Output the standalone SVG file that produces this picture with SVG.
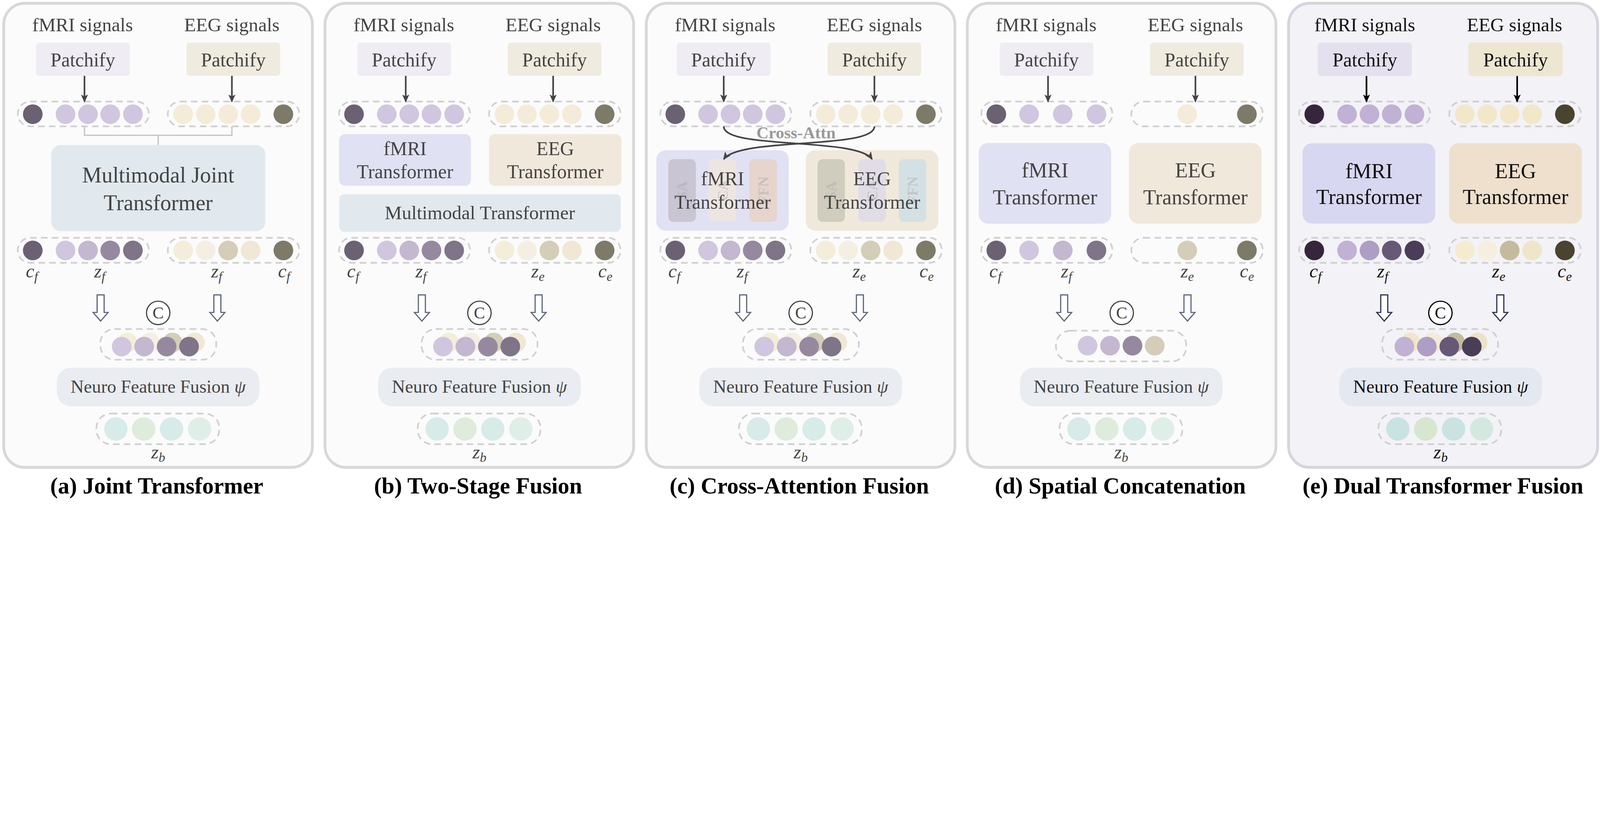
<svg xmlns="http://www.w3.org/2000/svg" xmlns:xlink="http://www.w3.org/1999/xlink" width="6838" height="2137" viewBox="0 0 6838 2137" style="max-width:100vw;height:auto">
<style>
.t{font-family:"Liberation Serif","Times New Roman",serif;fill:#444;text-anchor:middle}
.te{fill:#111}
.m{font-family:"Liberation Serif","Times New Roman",serif;font-style:italic;fill:#444;font-size:82px;text-anchor:middle}
.cap{font-family:"Liberation Serif","Times New Roman",serif;font-weight:bold;fill:#000;font-size:98px;text-anchor:middle}
.panel{fill:#fbfbfb;stroke:#d8d8d8;stroke-width:12}
.pill{fill:none;stroke:#d0d0d0;stroke-width:7;stroke-dasharray:28 18}
.arr{stroke:#444;stroke-width:7;fill:none}
.hol{fill:#fff;stroke:#5c6680;stroke-width:5}
.sig{font-size:82px}
.pat{font-size:83px}
.nff{font-size:78px}
.bar{font-family:"Liberation Serif",serif;font-weight:bold;font-size:62px;fill:#b0a8b0;opacity:0.45;text-anchor:middle}
</style>
<defs>
<marker id="ah2" markerUnits="userSpaceOnUse" markerWidth="34" markerHeight="30" refX="30" refY="15" orient="auto" viewBox="0 0 34 30"><path d="M0,0 L34,15 L0,30 L8,15 Z" fill="#444"/></marker>
<marker id="ahe" markerUnits="userSpaceOnUse" markerWidth="34" markerHeight="30" refX="30" refY="15" orient="auto" viewBox="0 0 34 30"><path d="M0,0 L34,15 L0,30 L8,15 Z" fill="#000"/></marker>
<path id="hollow" d="M-15,0 L15,0 L15,75 L32,75 L0,112 L-32,75 L-15,75 Z"/>
</defs>

<!-- ================= (a) ================= -->
<g id="panel-a" transform="translate(16,0)">
<rect class="panel" x="0" y="14" width="1319" height="1983" rx="90"/>
<text class="t sig" x="337" y="133">fMRI signals</text>
<text class="t sig" x="975" y="133">EEG signals</text>
<g id="a-patch-f"><rect x="138" y="182" width="401" height="142" rx="14" fill="#efecf4"/><text class="t pat" x="338" y="283">Patchify</text></g>
<g id="a-patch-e"><rect x="781" y="182" width="400" height="142" rx="14" fill="#efebdf"/><text class="t pat" x="981" y="283">Patchify</text></g>
<g id="a-in-f"><rect class="pill" x="60" y="434" width="560" height="106" rx="53"/>
<circle cx="124" cy="488" r="42" fill="#6b6173"/><circle cx="264" cy="488" r="42" fill="#d0c6df"/><circle cx="360" cy="488" r="42" fill="#d0c6df"/><circle cx="455" cy="488" r="42" fill="#d0c6df"/><circle cx="552" cy="488" r="42" fill="#d0c6df"/></g>
<g id="a-in-e"><rect class="pill" x="701" y="434" width="562" height="106" rx="53"/>
<circle cx="767" cy="488" r="42" fill="#f4ecd8"/><circle cx="863" cy="488" r="42" fill="#f4ecd8"/><circle cx="959" cy="488" r="42" fill="#f4ecd8"/><circle cx="1055" cy="488" r="42" fill="#f4ecd8"/><circle cx="1195" cy="488" r="42" fill="#7d7a68"/></g>
<g id="a-joint"><rect x="203" y="620" width="915" height="368" rx="40" fill="#e1e9ee"/><text class="t" font-size="94" x="660" y="779">Multimodal Joint</text><text class="t" font-size="94" x="660" y="898">Transformer</text></g>
<g id="a-out-f"><rect class="pill" x="60" y="1016" width="560" height="107" rx="53"/>
<circle cx="124" cy="1070" r="42" fill="#6b6173"/><circle cx="264" cy="1070" r="42" fill="#d0c6df"/><circle cx="360" cy="1070" r="42" fill="#c4b7d0"/><circle cx="455" cy="1070" r="42" fill="#96899f"/><circle cx="552" cy="1070" r="42" fill="#7f7488"/></g>
<g id="a-out-e"><rect class="pill" x="701" y="1016" width="562" height="107" rx="53"/>
<circle cx="767" cy="1070" r="42" fill="#f4edd9"/><circle cx="863" cy="1070" r="42" fill="#f5efe3"/><circle cx="959" cy="1070" r="42" fill="#d4cdb8"/><circle cx="1055" cy="1070" r="42" fill="#f0e8d4"/><circle cx="1195" cy="1070" r="42" fill="#7d7a68"/></g>
<text class="m" x="120" y="1185">c<tspan font-size="56" dy="16">f</tspan></text>
<text class="m" x="410" y="1185">z<tspan font-size="56" dy="16">f</tspan></text>
<text class="m" x="910" y="1185">z<tspan font-size="56" dy="16">f</tspan></text>
<text class="m" x="1198" y="1185">c<tspan font-size="56" dy="16">f</tspan></text>
<g id="a-concat-op"><circle cx="660" cy="1337" r="50" fill="#fff" stroke="#444" stroke-width="5"/><text class="t" font-size="72" x="660" y="1361">C</text></g>
<g id="a-concat"><rect class="pill" x="413" y="1406" width="495" height="131" rx="60"/>
<circle cx="529" cy="1463" r="42" fill="#f4edd9"/><circle cx="625" cy="1463" r="42" fill="#f5efe3"/><circle cx="721" cy="1463" r="42" fill="#d4cdb8"/><circle cx="817" cy="1463" r="42" fill="#f0e8d4"/>
<circle cx="504" cy="1481" r="42" fill="#d0c6df"/><circle cx="600" cy="1481" r="42" fill="#c4b7d0"/><circle cx="696" cy="1481" r="42" fill="#96899f"/><circle cx="792" cy="1481" r="42" fill="#7f7488"/></g>
<g id="a-nff"><rect x="227" y="1571" width="866" height="165" rx="60" fill="#e9ecf0"/><text class="t nff" x="660" y="1678">Neuro Feature Fusion <tspan font-style="italic">ψ</tspan></text></g>
<g id="a-zb"><rect class="pill" x="396" y="1767" width="525" height="131" rx="62"/>
<circle cx="479" cy="1833" r="50" fill="#d7ebe8"/><circle cx="598" cy="1833" r="50" fill="#dfebdb"/><circle cx="717" cy="1833" r="50" fill="#d7ebe8"/><circle cx="837" cy="1833" r="50" fill="#e0eee8"/></g>
<text class="m" x="660" y="1958">z<tspan font-size="56" dy="16">b</tspan></text>
<g id="a-conn">
<line class="arr" x1="345" y1="324" x2="345" y2="434" marker-end="url(#ah2)"/>
<line class="arr" x1="975" y1="324" x2="975" y2="434" marker-end="url(#ah2)"/>
<path d="M345,540 V578 H975 V540 M660,578 V620" fill="none" stroke="#c8c8c8" stroke-width="6"/>
<use href="#hollow" class="hol" x="414" y="1260"/><use href="#hollow" class="hol" x="913" y="1260"/>
</g>
<text class="cap" x="654" y="2109">(a) Joint Transformer</text>
</g>

<!-- ================= (b) ================= -->
<g id="panel-b" transform="translate(1389,0)">
<rect class="panel" x="0" y="14" width="1319" height="1983" rx="90"/>
<text class="t sig" x="337" y="133">fMRI signals</text>
<text class="t sig" x="975" y="133">EEG signals</text>
<g id="b-patch-f"><rect x="138" y="182" width="401" height="142" rx="14" fill="#efecf4"/><text class="t pat" x="338" y="283">Patchify</text></g>
<g id="b-patch-e"><rect x="781" y="182" width="400" height="142" rx="14" fill="#efebdf"/><text class="t pat" x="981" y="283">Patchify</text></g>
<g id="b-in-f"><rect class="pill" x="60" y="434" width="560" height="106" rx="53"/>
<circle cx="124" cy="488" r="42" fill="#6b6173"/><circle cx="264" cy="488" r="42" fill="#d0c6df"/><circle cx="360" cy="488" r="42" fill="#d0c6df"/><circle cx="455" cy="488" r="42" fill="#d0c6df"/><circle cx="552" cy="488" r="42" fill="#d0c6df"/></g>
<g id="b-in-e"><rect class="pill" x="701" y="434" width="562" height="106" rx="53"/>
<circle cx="767" cy="488" r="42" fill="#f4ecd8"/><circle cx="863" cy="488" r="42" fill="#f4ecd8"/><circle cx="959" cy="488" r="42" fill="#f4ecd8"/><circle cx="1055" cy="488" r="42" fill="#f4ecd8"/><circle cx="1195" cy="488" r="42" fill="#7d7a68"/></g>
<g id="b-ftr"><rect x="60" y="573" width="564" height="221" rx="26" fill="#e1e1f4"/><text class="t" font-size="83" x="342" y="662">fMRI</text><text class="t" font-size="83" x="342" y="761">Transformer</text></g>
<g id="b-etr"><rect x="701" y="573" width="566" height="221" rx="26" fill="#f1e8dc"/><text class="t" font-size="83" x="984" y="662">EEG</text><text class="t" font-size="83" x="984" y="761">Transformer</text></g>
<g id="b-mm"><rect x="61" y="830" width="1203" height="161" rx="20" fill="#e1e9ee"/><text class="t" font-size="82" x="662" y="937">Multimodal Transformer</text></g>
<g id="b-out-f"><rect class="pill" x="60" y="1016" width="560" height="107" rx="53"/>
<circle cx="124" cy="1070" r="42" fill="#6b6173"/><circle cx="264" cy="1070" r="42" fill="#d0c6df"/><circle cx="360" cy="1070" r="42" fill="#c4b7d0"/><circle cx="455" cy="1070" r="42" fill="#96899f"/><circle cx="552" cy="1070" r="42" fill="#7f7488"/></g>
<g id="b-out-e"><rect class="pill" x="701" y="1016" width="562" height="107" rx="53"/>
<circle cx="767" cy="1070" r="42" fill="#f4edd9"/><circle cx="863" cy="1070" r="42" fill="#f5efe3"/><circle cx="959" cy="1070" r="42" fill="#d4cdb8"/><circle cx="1055" cy="1070" r="42" fill="#f0e8d4"/><circle cx="1195" cy="1070" r="42" fill="#7d7a68"/></g>
<text class="m" x="120" y="1185">c<tspan font-size="56" dy="16">f</tspan></text>
<text class="m" x="410" y="1185">z<tspan font-size="56" dy="16">f</tspan></text>
<text class="m" x="910" y="1185">z<tspan font-size="56" dy="16">e</tspan></text>
<text class="m" x="1198" y="1185">c<tspan font-size="56" dy="16">e</tspan></text>
<g id="b-concat-op"><circle cx="660" cy="1337" r="50" fill="#fff" stroke="#444" stroke-width="5"/><text class="t" font-size="72" x="660" y="1361">C</text></g>
<g id="b-concat"><rect class="pill" x="413" y="1406" width="495" height="131" rx="60"/>
<circle cx="529" cy="1463" r="42" fill="#f4edd9"/><circle cx="625" cy="1463" r="42" fill="#f5efe3"/><circle cx="721" cy="1463" r="42" fill="#d4cdb8"/><circle cx="817" cy="1463" r="42" fill="#f0e8d4"/>
<circle cx="504" cy="1481" r="42" fill="#d0c6df"/><circle cx="600" cy="1481" r="42" fill="#c4b7d0"/><circle cx="696" cy="1481" r="42" fill="#96899f"/><circle cx="792" cy="1481" r="42" fill="#7f7488"/></g>
<g id="b-nff"><rect x="227" y="1571" width="866" height="165" rx="60" fill="#e9ecf0"/><text class="t nff" x="660" y="1678">Neuro Feature Fusion <tspan font-style="italic">ψ</tspan></text></g>
<g id="b-zb"><rect class="pill" x="396" y="1767" width="525" height="131" rx="62"/>
<circle cx="479" cy="1833" r="50" fill="#d7ebe8"/><circle cx="598" cy="1833" r="50" fill="#dfebdb"/><circle cx="717" cy="1833" r="50" fill="#d7ebe8"/><circle cx="837" cy="1833" r="50" fill="#e0eee8"/></g>
<text class="m" x="660" y="1958">z<tspan font-size="56" dy="16">b</tspan></text>
<g id="b-conn">
<line class="arr" x1="345" y1="324" x2="345" y2="434" marker-end="url(#ah2)"/>
<line class="arr" x1="975" y1="324" x2="975" y2="434" marker-end="url(#ah2)"/>
<use href="#hollow" class="hol" x="414" y="1260"/><use href="#hollow" class="hol" x="913" y="1260"/>
</g>
<text class="cap" x="654" y="2109">(b) Two-Stage Fusion</text>
</g>

<!-- ================= (c) ================= -->
<g id="panel-c" transform="translate(2762,0)">
<rect class="panel" x="0" y="14" width="1319" height="1983" rx="90"/>
<text class="t sig" x="337" y="133">fMRI signals</text>
<text class="t sig" x="975" y="133">EEG signals</text>
<g id="c-patch-f"><rect x="130" y="182" width="401" height="142" rx="14" fill="#efecf4"/><text class="t pat" x="330" y="283">Patchify</text></g>
<g id="c-patch-e"><rect x="775" y="182" width="400" height="142" rx="14" fill="#efebdf"/><text class="t pat" x="975" y="283">Patchify</text></g>
<g id="c-in-f"><rect class="pill" x="60" y="434" width="560" height="106" rx="53"/>
<circle cx="124" cy="488" r="42" fill="#6b6173"/><circle cx="264" cy="488" r="42" fill="#d0c6df"/><circle cx="360" cy="488" r="42" fill="#d0c6df"/><circle cx="455" cy="488" r="42" fill="#d0c6df"/><circle cx="552" cy="488" r="42" fill="#d0c6df"/></g>
<g id="c-in-e"><rect class="pill" x="701" y="434" width="562" height="106" rx="53"/>
<circle cx="767" cy="488" r="42" fill="#f4ecd8"/><circle cx="863" cy="488" r="42" fill="#f4ecd8"/><circle cx="959" cy="488" r="42" fill="#f4ecd8"/><circle cx="1055" cy="488" r="42" fill="#f4ecd8"/><circle cx="1195" cy="488" r="42" fill="#7d7a68"/></g>
<g id="c-ftr"><rect x="43" y="642" width="566" height="344" rx="40" fill="#e1e1f4"/>
<rect x="94" y="680" width="118" height="268" rx="22" fill="#c9c5d3"/><rect x="267" y="680" width="118" height="268" rx="22" fill="#ede5e0"/><rect x="440" y="680" width="119" height="268" rx="22" fill="#e6d4cd"/>
<text class="bar" transform="translate(175,814) rotate(-90)">SA</text><text class="bar" transform="translate(348,814) rotate(-90)">CA</text><text class="bar" transform="translate(521,814) rotate(-90)">FFN</text>
<text class="t" font-size="83" x="326" y="792">fMRI</text><text class="t" font-size="83" x="326" y="892">Transformer</text></g>
<g id="c-etr"><rect x="682" y="642" width="566" height="344" rx="40" fill="#f1e8dc"/>
<rect x="732" y="680" width="117" height="268" rx="22" fill="#d0ccbe"/><rect x="906" y="680" width="118" height="268" rx="22" fill="#e0dde6"/><rect x="1079" y="680" width="118" height="268" rx="22" fill="#d3e1e4"/>
<text class="bar" transform="translate(812,814) rotate(-90)">SA</text><text class="bar" transform="translate(987,814) rotate(-90)">CA</text><text class="bar" transform="translate(1160,814) rotate(-90)">FFN</text>
<text class="t" font-size="83" x="965" y="792">EEG</text><text class="t" font-size="83" x="965" y="892">Transformer</text></g>
<g id="c-out-f"><rect class="pill" x="60" y="1016" width="560" height="107" rx="53"/>
<circle cx="124" cy="1070" r="42" fill="#6b6173"/><circle cx="264" cy="1070" r="42" fill="#d0c6df"/><circle cx="360" cy="1070" r="42" fill="#c4b7d0"/><circle cx="455" cy="1070" r="42" fill="#96899f"/><circle cx="552" cy="1070" r="42" fill="#7f7488"/></g>
<g id="c-out-e"><rect class="pill" x="701" y="1016" width="562" height="107" rx="53"/>
<circle cx="767" cy="1070" r="42" fill="#f4edd9"/><circle cx="863" cy="1070" r="42" fill="#f5efe3"/><circle cx="959" cy="1070" r="42" fill="#d4cdb8"/><circle cx="1055" cy="1070" r="42" fill="#f0e8d4"/><circle cx="1195" cy="1070" r="42" fill="#7d7a68"/></g>
<text class="m" x="120" y="1185">c<tspan font-size="56" dy="16">f</tspan></text>
<text class="m" x="410" y="1185">z<tspan font-size="56" dy="16">f</tspan></text>
<text class="m" x="910" y="1185">z<tspan font-size="56" dy="16">e</tspan></text>
<text class="m" x="1198" y="1185">c<tspan font-size="56" dy="16">e</tspan></text>
<g id="c-concat-op"><circle cx="660" cy="1337" r="50" fill="#fff" stroke="#444" stroke-width="5"/><text class="t" font-size="72" x="660" y="1361">C</text></g>
<g id="c-concat"><rect class="pill" x="413" y="1406" width="495" height="131" rx="60"/>
<circle cx="529" cy="1463" r="42" fill="#f4edd9"/><circle cx="625" cy="1463" r="42" fill="#f5efe3"/><circle cx="721" cy="1463" r="42" fill="#d4cdb8"/><circle cx="817" cy="1463" r="42" fill="#f0e8d4"/>
<circle cx="504" cy="1481" r="42" fill="#d0c6df"/><circle cx="600" cy="1481" r="42" fill="#c4b7d0"/><circle cx="696" cy="1481" r="42" fill="#96899f"/><circle cx="792" cy="1481" r="42" fill="#7f7488"/></g>
<g id="c-nff"><rect x="227" y="1571" width="866" height="165" rx="60" fill="#e9ecf0"/><text class="t nff" x="660" y="1678">Neuro Feature Fusion <tspan font-style="italic">ψ</tspan></text></g>
<g id="c-zb"><rect class="pill" x="396" y="1767" width="525" height="131" rx="62"/>
<circle cx="479" cy="1833" r="50" fill="#d7ebe8"/><circle cx="598" cy="1833" r="50" fill="#dfebdb"/><circle cx="717" cy="1833" r="50" fill="#d7ebe8"/><circle cx="837" cy="1833" r="50" fill="#e0eee8"/></g>
<text class="m" x="660" y="1958">z<tspan font-size="56" dy="16">b</tspan></text>
<g id="c-conn">
<line class="arr" x1="331" y1="324" x2="331" y2="434" marker-end="url(#ah2)"/>
<line class="arr" x1="975" y1="324" x2="975" y2="434" marker-end="url(#ah2)"/>
<path class="arr" d="M331,540 C331,640 900,585 965,680" marker-end="url(#ah2)"/>
<path class="arr" d="M975,540 C975,640 400,585 331,680" marker-end="url(#ah2)"/>
<use href="#hollow" class="hol" x="414" y="1260"/><use href="#hollow" class="hol" x="913" y="1260"/>
</g>
<text x="640" y="591" font-family="Liberation Serif, serif" font-weight="bold" font-size="72" fill="#999" text-anchor="middle">Cross-Attn</text>
<text class="cap" x="654" y="2109">(c) Cross-Attention Fusion</text>
</g>

<!-- ================= (d) ================= -->
<g id="panel-d" transform="translate(4134,0)">
<rect class="panel" x="0" y="14" width="1319" height="1983" rx="90"/>
<text class="t sig" x="337" y="133">fMRI signals</text>
<text class="t sig" x="975" y="133">EEG signals</text>
<g id="d-patch-f"><rect x="138" y="182" width="401" height="142" rx="14" fill="#efecf4"/><text class="t pat" x="338" y="283">Patchify</text></g>
<g id="d-patch-e"><rect x="781" y="182" width="400" height="142" rx="14" fill="#efebdf"/><text class="t pat" x="981" y="283">Patchify</text></g>
<g id="d-in-f"><rect class="pill" x="60" y="434" width="560" height="106" rx="53"/>
<circle cx="124" cy="488" r="42" fill="#6b6173"/><circle cx="264" cy="488" r="42" fill="#d0c6df"/><circle cx="408" cy="488" r="42" fill="#d0c6df"/><circle cx="552" cy="488" r="42" fill="#d0c6df"/></g>
<g id="d-in-e"><rect class="pill" x="701" y="434" width="562" height="106" rx="53"/>
<circle cx="940" cy="488" r="42" fill="#f4ecd8"/><circle cx="1195" cy="488" r="42" fill="#7d7a68"/></g>
<g id="d-ftr"><rect x="49" y="611" width="566" height="345" rx="40" fill="#e1e1f4"/><text class="t" font-size="90" x="332" y="758">fMRI</text><text class="t" font-size="90" x="332" y="873">Transformer</text></g>
<g id="d-etr"><rect x="691" y="611" width="567" height="345" rx="40" fill="#f1e8dc"/><text class="t" font-size="90" x="975" y="758">EEG</text><text class="t" font-size="90" x="975" y="873">Transformer</text></g>
<g id="d-out-f"><rect class="pill" x="60" y="1016" width="560" height="107" rx="53"/>
<circle cx="124" cy="1070" r="42" fill="#6b6173"/><circle cx="264" cy="1070" r="42" fill="#d0c6df"/><circle cx="408" cy="1070" r="42" fill="#c4b7d0"/><circle cx="552" cy="1070" r="42" fill="#7f7488"/></g>
<g id="d-out-e"><rect class="pill" x="701" y="1016" width="562" height="107" rx="53"/>
<circle cx="940" cy="1070" r="42" fill="#d4cdb8"/><circle cx="1195" cy="1070" r="42" fill="#7d7a68"/></g>
<text class="m" x="120" y="1185">c<tspan font-size="56" dy="16">f</tspan></text>
<text class="m" x="424" y="1185">z<tspan font-size="56" dy="16">f</tspan></text>
<text class="m" x="940" y="1185">z<tspan font-size="56" dy="16">e</tspan></text>
<text class="m" x="1195" y="1185">c<tspan font-size="56" dy="16">e</tspan></text>
<g id="d-concat-op"><circle cx="660" cy="1337" r="50" fill="#fff" stroke="#444" stroke-width="5"/><text class="t" font-size="72" x="660" y="1361">C</text></g>
<g id="d-concat"><rect class="pill" x="379" y="1413" width="557" height="131" rx="62"/>
<circle cx="514" cy="1477" r="42" fill="#d0c6df"/><circle cx="610" cy="1477" r="42" fill="#c4b7d0"/><circle cx="706" cy="1477" r="42" fill="#96899f"/><circle cx="801" cy="1477" r="42" fill="#d4cdb8"/></g>
<g id="d-nff"><rect x="225" y="1571" width="866" height="165" rx="60" fill="#e9ecf0"/><text class="t nff" x="658" y="1678">Neuro Feature Fusion <tspan font-style="italic">ψ</tspan></text></g>
<g id="d-zb"><rect class="pill" x="394" y="1767" width="525" height="131" rx="62"/>
<circle cx="477" cy="1833" r="50" fill="#d7ebe8"/><circle cx="596" cy="1833" r="50" fill="#dfebdb"/><circle cx="715" cy="1833" r="50" fill="#d7ebe8"/><circle cx="835" cy="1833" r="50" fill="#e0eee8"/></g>
<text class="m" x="658" y="1958">z<tspan font-size="56" dy="16">b</tspan></text>
<g id="d-conn">
<line class="arr" x1="345" y1="324" x2="345" y2="434" marker-end="url(#ah2)"/>
<line class="arr" x1="975" y1="324" x2="975" y2="434" marker-end="url(#ah2)"/>
<use href="#hollow" class="hol" x="414" y="1260"/><use href="#hollow" class="hol" x="941" y="1260"/>
</g>
<text class="cap" x="654" y="2109">(d) Spatial Concatenation</text>
</g>

<!-- ================= (e) ================= -->
<g id="panel-e" transform="translate(5507,0)">
<rect x="0" y="14" width="1321" height="1983" rx="90" fill="#f2f2f7" stroke="#d5d5df" stroke-width="12"/>
<text class="t te sig" x="326" y="133">fMRI signals</text>
<text class="t te sig" x="966" y="133">EEG signals</text>
<g id="e-patch-f"><rect x="125" y="182" width="402" height="143" rx="14" fill="#e4e0ee"/><text class="t te pat" x="326" y="283">Patchify</text></g>
<g id="e-patch-e"><rect x="769" y="182" width="402" height="143" rx="14" fill="#ede6d1"/><text class="t te pat" x="970" y="283">Patchify</text></g>
<g id="e-in-f"><rect class="pill" x="45" y="434" width="560" height="106" rx="53" stroke="#c0c0c4"/>
<circle cx="110" cy="488" r="42" fill="#35263c"/><circle cx="250" cy="488" r="42" fill="#c0b1d5"/><circle cx="346" cy="488" r="42" fill="#c0b1d5"/><circle cx="441" cy="488" r="42" fill="#c0b1d5"/><circle cx="538" cy="488" r="42" fill="#c0b1d5"/></g>
<g id="e-in-e"><rect class="pill" x="687" y="434" width="562" height="106" rx="53" stroke="#c0c0c4"/>
<circle cx="753" cy="488" r="42" fill="#f3e7c9"/><circle cx="849" cy="488" r="42" fill="#f3e7c9"/><circle cx="945" cy="488" r="42" fill="#f3e7c9"/><circle cx="1041" cy="488" r="42" fill="#f3e7c9"/><circle cx="1181" cy="488" r="42" fill="#4a432f"/></g>
<g id="e-ftr"><rect x="60" y="612" width="567" height="343" rx="40" fill="#d8d7f1"/><text class="t te" font-size="91" x="344" y="761">fMRI</text><text class="t te" font-size="91" x="344" y="872">Transformer</text></g>
<g id="e-etr"><rect x="686" y="612" width="568" height="343" rx="40" fill="#eee0cc"/><text class="t te" font-size="91" x="970" y="761">EEG</text><text class="t te" font-size="91" x="970" y="872">Transformer</text></g>
<g id="e-out-f"><rect class="pill" x="45" y="1016" width="560" height="107" rx="53" stroke="#c0c0c4"/>
<circle cx="110" cy="1070" r="42" fill="#35263c"/><circle cx="250" cy="1070" r="42" fill="#c0b1d5"/><circle cx="346" cy="1070" r="42" fill="#ae9ec4"/><circle cx="441" cy="1070" r="42" fill="#675878"/><circle cx="538" cy="1070" r="42" fill="#4b3d58"/></g>
<g id="e-out-e"><rect class="pill" x="687" y="1016" width="562" height="107" rx="53" stroke="#c0c0c4"/>
<circle cx="753" cy="1070" r="42" fill="#f5ecd0"/><circle cx="849" cy="1070" r="42" fill="#f6efdf"/><circle cx="945" cy="1070" r="42" fill="#c4bb9f"/><circle cx="1041" cy="1070" r="42" fill="#efe5c9"/><circle cx="1181" cy="1070" r="42" fill="#4a432f"/></g>
<text class="m" x="115" y="1185" style="fill:#111">c<tspan font-size="56" dy="16">f</tspan></text>
<text class="m" x="402" y="1185" style="fill:#111">z<tspan font-size="56" dy="16">f</tspan></text>
<text class="m" x="898" y="1185" style="fill:#111">z<tspan font-size="56" dy="16">e</tspan></text>
<text class="m" x="1180" y="1185" style="fill:#111">c<tspan font-size="56" dy="16">e</tspan></text>
<g id="e-concat-op"><circle cx="649" cy="1337" r="50" fill="#fff" stroke="#000" stroke-width="5"/><text class="t te" font-size="72" x="649" y="1361">C</text></g>
<g id="e-concat"><rect class="pill" x="400" y="1406" width="495" height="131" rx="60" stroke="#c0c0c4"/>
<circle cx="520" cy="1463" r="42" fill="#f1e6c9"/><circle cx="616" cy="1463" r="42" fill="#f4ead7"/><circle cx="712" cy="1463" r="42" fill="#c4bb9f"/><circle cx="808" cy="1463" r="42" fill="#ece2c7"/>
<circle cx="495" cy="1481" r="42" fill="#c0b1d5"/><circle cx="591" cy="1481" r="42" fill="#ae9ec4"/><circle cx="687" cy="1481" r="42" fill="#675878"/><circle cx="783" cy="1481" r="42" fill="#4b3d58"/></g>
<g id="e-nff"><rect x="217" y="1571" width="866" height="165" rx="60" fill="#e4e8f0"/><text class="t te nff" x="650" y="1678">Neuro Feature Fusion <tspan font-style="italic">ψ</tspan></text></g>
<g id="e-zb"><rect class="pill" x="384" y="1767" width="525" height="131" rx="62" stroke="#c0c0c4"/>
<circle cx="467" cy="1833" r="50" fill="#c9e3e2"/><circle cx="586" cy="1833" r="50" fill="#d7e6cf"/><circle cx="705" cy="1833" r="50" fill="#c9e3e2"/><circle cx="825" cy="1833" r="50" fill="#d3e9df"/></g>
<text class="m" x="650" y="1958" style="fill:#111">z<tspan font-size="56" dy="16">b</tspan></text>
<g id="e-conn">
<line x1="333" y1="325" x2="333" y2="434" stroke="#000" stroke-width="7" marker-end="url(#ahe)"/>
<line x1="977" y1="325" x2="977" y2="434" stroke="#000" stroke-width="7" marker-end="url(#ahe)"/>
<use href="#hollow" fill="#fff" stroke="#2a3450" stroke-width="5" x="409" y="1260"/><use href="#hollow" fill="#fff" stroke="#2a3450" stroke-width="5" x="905" y="1260"/>
</g>
<text class="cap" x="660" y="2109">(e) Dual Transformer Fusion</text>
</g>
</svg>
